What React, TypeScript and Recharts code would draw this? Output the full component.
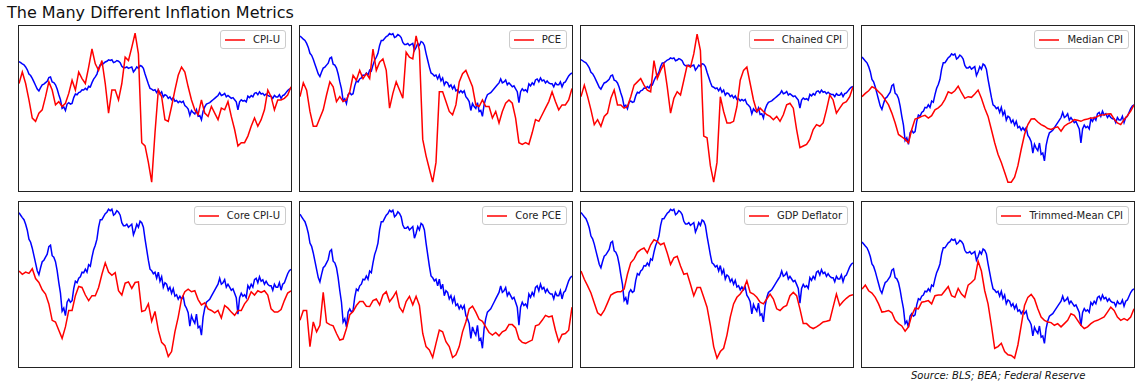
import { Line, LineChart, XAxis, YAxis } from "recharts";

// blue benchmark series, same in every panel (own scale per panel)
const benchmark = [
  93.0, 91.4, 89.8, 88.4, 85.4, 81.4, 75.4, 73.4, 69.4, 64.4,
  59.4, 54.4, 51.8, 56.4, 60.4, 61.4, 63.4, 65.4, 70.4, 71.4,
  64.4, 63.4, 60.4, 54.4, 46.4, 39.4, 27.4, 29.4, 24.4, 33.4,
  35.4, 33.4, 34.4, 42.4, 47.4, 46.4, 49.4, 50.4, 53.4, 53.0,
  55.4, 53.4, 58.4, 57.4, 63.4, 68.4, 71.4, 75.4, 83.4, 88.4,
  88.4, 90.4, 92.4, 93.4, 95.4, 94.4, 95.4, 91.4, 92.4, 94.4,
  93.4, 91.4, 86.4, 84.4, 84.4, 85.4, 83.4, 84.4, 85.4, 78.4,
  81.4, 85.4, 83.4, 87.4, 86.4, 83.4, 75.4, 68.4, 61.4, 55.4,
  54.4, 52.4, 53.4, 49.4, 53.4, 47.4, 50.4, 43.4, 46.4, 45.4,
  41.4, 43.4, 39.4, 42.4, 37.4, 38.4, 35.4, 37.4, 35.4, 37.4,
  31.4, 29.4, 26.4, 17.4, 24.4, 21.4, 19.4, 25.4, 16.4, 17.4,
  11.4, 23.4, 29.4, 33.4, 34.4, 35.4, 37.4, 39.4, 41.4, 43.4,
  45.4, 49.4, 45.4, 46.4, 48.4, 43.4, 45.4, 43.4, 41.4, 42.4,
  39.4, 36.4, 25.4, 36.4, 39.4, 37.4, 38.4, 36.4, 44.4, 42.4,
  45.4, 43.4, 48.4, 49.4, 46.4, 50.4, 47.4, 48.4, 45.4, 47.4,
  45.4, 44.4, 44.4, 41.4, 45.4, 43.4, 43.4, 46.4, 41.4, 45.4,
  46.4, 49.4, 52.4, 54.4, 55.4,
];

// red series, one reading every second benchmark step
const cpiU = [
  65.4, 72.4, 65.4, 55.4, 44.4, 42.4, 47.4, 49.4, 57.4, 66.4,
  61.4, 52.4, 54.4, 51.4, 53.4, 59.4, 67.4, 61.4, 72.4, 68.4,
  65.4, 75.4, 86.4, 77.4, 73.4, 79.4, 65.4, 47.4, 61.4, 61.4,
  55.4, 65.4, 81.4, 79.4, 87.4, 96.0, 83.4, 29.4, 27.4, 17.4,
  5.4, 35.4, 61.4, 57.4, 43.4, 42.4, 51.4, 61.4, 70.4, 75.4,
  72.4, 63.4, 55.4, 49.4, 46.4, 55.4, 47.4, 45.4, 51.4, 47.4,
  43.4, 50.4, 49.4, 54.4, 45.4, 37.4, 27.4, 29.4, 29.4, 33.4,
  39.4, 44.4, 39.4, 43.4, 49.4, 61.4, 57.4, 49.4, 55.4, 55.4,
  56.4, 58.4, 63.4,
];

const pce = [
  57.4, 65.8, 61.4, 48.4, 39.4, 39.4, 44.4, 49.4, 58.4, 66.4,
  63.4, 54.4, 57.4, 54.4, 55.4, 60.4, 70.4, 67.4, 73.4, 68.4,
  71.4, 68.4, 86.4, 73.4, 78.4, 80.4, 73.4, 50.4, 59.4, 66.4,
  61.4, 56.4, 84.4, 81.4, 80.4, 94.4, 85.4, 31.4, 21.4, 13.4,
  5.4, 17.4, 60.4, 60.4, 54.4, 48.4, 46.4, 52.4, 66.4, 71.4,
  73.4, 68.4, 63.4, 52.4, 51.4, 55.4, 51.4, 51.4, 44.4, 48.4,
  41.4, 48.4, 53.4, 55.4, 53.4, 44.4, 29.4, 28.4, 29.4, 28.4,
  35.4, 43.4, 42.4, 46.4, 50.4, 54.4, 60.4, 54.4, 49.4, 52.4,
  52.4, 55.4, 62.4,
];

const chainedCpi = [
  57.4, 64.4, 57.4, 49.4, 40.4, 43.4, 39.4, 45.4, 47.4, 56.4,
  61.4, 52.4, 52.4, 50.4, 51.4, 57.4, 64.4, 66.4, 68.4, 64.4,
  61.4, 60.4, 79.4, 68.4, 73.4, 77.4, 63.4, 47.4, 56.4, 60.4,
  58.4, 67.4, 76.4, 75.4, 83.4, 95.4, 85.4, 33.4, 32.4, 15.4,
  5.4, 17.4, 57.4, 48.4, 41.4, 41.4, 42.4, 51.4, 67.4, 73.4,
  75.4, 65.4, 55.4, 48.4, 50.4, 48.4, 46.4, 45.4, 43.4, 45.4,
  42.4, 46.4, 52.4, 53.4, 50.4, 37.4, 26.4, 27.4, 28.4, 31.4,
  37.4, 40.4, 39.4, 41.4, 49.4, 58.4, 55.4, 47.4, 50.4, 53.4,
  54.4, 57.4, 63.4,
];

const medianCpi = [
  57.4, 59.4, 61.0, 63.4, 62.4, 60.4, 58.4, 55.4, 52.4, 47.4,
  41.4, 34.4, 33.0, 31.4, 29.4, 37.4, 43.8, 44.4, 45.4, 46.0,
  44.4, 45.8, 49.4, 50.6, 52.4, 55.8, 60.4, 59.4, 61.0, 63.8,
  59.8, 56.4, 57.4, 57.0, 59.0, 61.4, 56.4, 50.4, 45.4, 37.4,
  29.4, 22.4, 17.4, 11.4, 5.4, 5.4, 8.4, 15.4, 25.4, 34.4,
  40.4, 43.8, 44.0, 42.0, 40.4, 39.4, 38.0, 37.4, 38.4, 39.0,
  36.4, 39.4, 40.8, 41.8, 43.4, 43.0, 42.4, 43.4, 43.8, 44.4,
  44.4, 45.4, 46.2, 46.4, 46.8, 47.0, 43.8, 41.4, 40.4, 43.4,
  45.8, 48.6, 52.4,
];

const coreCpiU = [
  58.4, 56.4, 57.8, 57.0, 59.8, 53.8, 51.4, 47.0, 44.4, 38.4,
  28.4, 27.4, 22.4, 17.4, 24.4, 34.4, 34.4, 43.4, 49.0, 48.4,
  43.8, 40.4, 43.4, 43.4, 48.4, 56.4, 63.4, 57.8, 55.8, 57.4,
  46.4, 43.8, 51.0, 51.8, 47.8, 51.4, 51.8, 33.8, 34.4, 38.4,
  27.8, 33.8, 22.4, 15.0, 13.0, 6.4, 9.4, 21.4, 30.4, 41.4,
  45.8, 47.4, 45.8, 46.4, 41.0, 37.8, 39.0, 35.4, 34.4, 33.0,
  34.4, 29.8, 37.4, 35.8, 33.4, 31.4, 34.4, 34.4, 38.4, 41.0,
  45.8, 43.8, 46.4, 45.4, 46.4, 43.8, 35.4, 33.4, 33.4, 35.0,
  40.4, 45.0, 46.4,
];

const corePce = [
  28.4, 34.4, 34.4, 12.4, 27.4, 21.4, 25.4, 45.4, 27.0, 25.8,
  25.0, 20.4, 16.4, 17.0, 23.4, 31.8, 33.8, 37.4, 39.8, 39.8,
  37.0, 36.8, 40.4, 41.4, 37.8, 43.8, 45.8, 39.8, 42.4, 45.8,
  36.4, 33.4, 39.8, 43.0, 37.8, 43.0, 37.4, 20.4, 12.4, 10.4,
  5.8, 14.4, 22.4, 21.4, 15.4, 12.4, 5.8, 7.4, 12.4, 21.4,
  27.4, 35.4, 37.0, 33.4, 29.0, 27.8, 24.4, 21.0, 19.4, 21.0,
  19.0, 21.4, 22.4, 25.8, 25.8, 23.8, 17.0, 15.0, 14.4, 15.4,
  16.4, 25.0, 25.8, 28.4, 31.4, 30.4, 31.0, 22.4, 15.4, 19.8,
  20.4, 22.4, 36.4,
];

const gdpDeflator = [
  58.4, 53.4, 49.4, 45.0, 39.0, 33.0, 31.4, 34.4, 39.0, 43.8,
  45.0, 45.8, 45.8, 47.4, 56.4, 63.4, 65.8, 69.8, 71.4, 72.4,
  69.4, 74.4, 77.4, 76.4, 74.4, 75.4, 69.4, 62.4, 66.4, 67.4,
  61.4, 56.4, 57.0, 50.4, 43.4, 48.4, 48.4, 42.4, 36.4, 25.4,
  12.4, 5.4, 9.4, 11.4, 19.4, 30.4, 38.4, 42.4, 44.4, 47.4,
  52.4, 45.4, 44.4, 42.4, 39.4, 38.4, 41.4, 44.4, 41.4, 35.4,
  34.4, 36.4, 37.4, 43.4, 45.4, 43.4, 35.4, 26.4, 26.4, 24.4,
  23.4, 24.4, 25.8, 27.4, 27.8, 28.4, 36.4, 44.4, 37.4, 39.8,
  41.8, 43.4, 44.0,
];

const trimmedMeanCpi = [
  47.4, 49.8, 46.4, 45.0, 42.4, 38.4, 33.4, 33.8, 34.4, 33.0,
  28.4, 26.4, 25.0, 21.8, 24.4, 31.4, 35.8, 35.4, 39.4, 39.8,
  40.4, 38.4, 43.4, 43.8, 43.8, 46.4, 49.0, 43.4, 42.4, 47.8,
  44.4, 42.4, 49.8, 51.4, 53.4, 64.4, 58.4, 46.4, 38.4, 25.4,
  11.4, 12.4, 14.4, 9.4, 7.4, 7.0, 5.4, 13.4, 25.4, 37.4,
  42.4, 44.2, 41.4, 35.4, 30.4, 28.4, 27.4, 27.0, 25.4, 26.4,
  24.4, 26.4, 28.4, 32.4, 31.4, 28.4, 25.4, 23.4, 24.4, 26.4,
  27.8, 28.4, 29.4, 30.4, 33.4, 36.4, 34.4, 30.4, 28.4, 29.4,
  28.4, 30.4, 35.4,
];

const panels = [
  { name: "CPI-U", red: cpiU, blueDomain: [-88.5, 142.8] },
  { name: "PCE", red: pce, blueDomain: [-64.3, 103.1] },
  { name: "Chained CPI", red: chainedCpi, blueDomain: [-90.4, 139.9] },
  { name: "Median CPI", red: medianCpi, blueDomain: [-12.3, 117.3] },
  { name: "Core CPI-U", red: coreCpiU, blueDomain: [-9.8, 100.2] },
  { name: "Core PCE", red: corePce, blueDomain: [0, 100.4] },
  { name: "GDP Deflator", red: gdpDeflator, blueDomain: [-22.2, 100.8] },
  { name: "Trimmed-Mean CPI", red: trimmedMeanCpi, blueDomain: [-7.6, 125.3] },
];

const PANEL_W = 274;
const PANEL_H = 167;
const colLeft = [18, 299, 580, 861];
const rowTop = [25, 201];
const FONT = '"DejaVu Sans", sans-serif';

function buildRows(red: number[]) {
  return benchmark.map((b, i) => ({
    t: i,
    blue: b,
    red: i % 2 === 0 ? red[i / 2] : null,
  }));
}

function Panel({ cfg, left, top }: { cfg: (typeof panels)[number]; left: number; top: number }) {
  const rows = buildRows(cfg.red);
  return (
    <div
      style={{
        position: "absolute",
        left,
        top,
        width: PANEL_W,
        height: PANEL_H,
        border: "1px solid #222",
        boxSizing: "border-box",
      }}
    >
      <LineChart width={PANEL_W - 2} height={PANEL_H - 2} data={rows} margin={{ top: 0, right: 0, bottom: 0, left: 0 }}>
        <XAxis dataKey="t" type="number" domain={[0, benchmark.length - 1]} hide />
        <YAxis yAxisId="red" domain={[0, 100.4]} hide allowDataOverflow />
        <YAxis yAxisId="blue" domain={cfg.blueDomain} hide allowDataOverflow />
        <Line
          yAxisId="blue"
          type="linear"
          dataKey="blue"
          stroke="#0000ff"
          strokeWidth={1.5}
          dot={false}
          isAnimationActive={false}
        />
        <Line
          yAxisId="red"
          type="linear"
          dataKey="red"
          stroke="#ff0000"
          strokeWidth={1.5}
          dot={false}
          connectNulls
          isAnimationActive={false}
        />
      </LineChart>
      <div
        style={{
          position: "absolute",
          top: 4,
          right: 5,
          height: 19,
          boxSizing: "border-box",
          border: "1px solid #cccccc",
          borderRadius: 3,
          background: "rgba(255,255,255,0.8)",
          display: "flex",
          alignItems: "center",
          padding: "0 5px 0 4px",
          fontFamily: FONT,
          fontSize: 10,
          color: "#222",
          whiteSpace: "nowrap",
        }}
      >
        <svg width={20} height={4} style={{ marginRight: 8, display: "block" }}>
          <line x1={0} y1={2} x2={20} y2={2} stroke="#ff0000" strokeWidth={1.5} />
        </svg>
        <span>{cfg.name}</span>
      </div>
    </div>
  );
}

export default function App() {
  return (
    <div
      style={{
        position: "absolute",
        left: 0,
        top: 0,
        width: 1144,
        height: 389,
        background: "#fff",
        fontFamily: FONT,
      }}
    >
      <div style={{ position: "absolute", left: 7, top: 5, fontSize: 16, lineHeight: "16px", color: "#111" }}>
        The Many Different Inflation Metrics
      </div>
      {panels.map((cfg, i) => (
        <Panel key={cfg.name} cfg={cfg} left={colLeft[i % 4]} top={rowTop[Math.floor(i / 4)]} />
      ))}
      <div
        style={{
          position: "absolute",
          left: 911,
          top: 371,
          fontSize: 10,
          lineHeight: "10px",
          fontStyle: "italic",
          color: "#111",
        }}
      >
        Source: BLS; BEA; Federal Reserve
      </div>
    </div>
  );
}
